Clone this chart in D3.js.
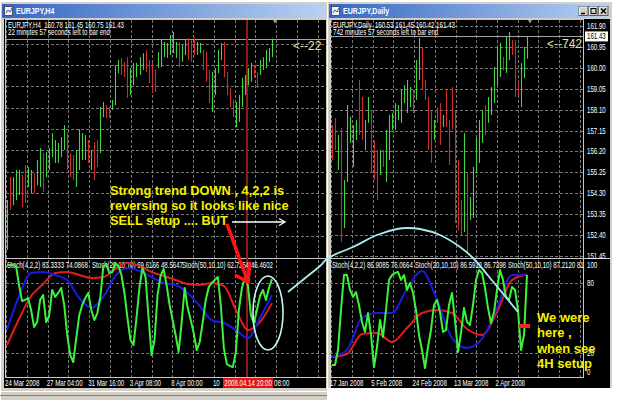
<!DOCTYPE html>
<html><head><meta charset="utf-8">
<script src="https://cdn.jsdelivr.net/npm/d3@7/dist/d3.min.js"></script>
<style>html,body{margin:0;padding:0;background:#fff;overflow:hidden}svg{display:block}</style>
</head><body>
<svg id="chart" width="625" height="400"></svg>
<script>
// ================= DATA =================
const leftTitle = "EURJPY,H4";
const rightTitle = "EURJPY,Daily";
const leftInfo = ["EURJPY,H4  160.78 161.45 160.75 161.43", "22 minutes 57 seconds left to bar end"];
const rightInfo = ["EURJPY,Daily  160.53 161.45 160.42 161.43", "742 minutes 57 seconds left to bar end"];
const leftStochLabels = ["Stoch(4,2,2) 83.3333 74.0868", "Stoch(20,10,10) 69.6166 48.5647", "Stoch(50,10,10) 62.7254 46.4602"];
const rightStochLabels = ["Stoch(4,2,2) 86.9085 76.0664", "Stoch(20,10,10) 86.5912 86.7398", "Stoch(50,10,10) 87.2120 81"];
const lastPrice = 161.43;
const leftBarsLeft = "<--22";
const rightBarsLeft = "<--742";

// H4 candles (high, low, up=1/down=0)
const leftHigh = [155.39,156.25,156.25,156.52,156.52,156.33,156.70,156.63,156.52,156.40,
  156.89,157.34,157.15,157.19,157.34,157.90,157.64,157.53,157.75,158.20,
  157.90,157.15,157.08,157.27,158.05,157.90,157.83,157.64,157.27,157.57,
  157.64,158.88,159.07,158.95,158.88,159.14,160.45,160.64,160.72,160.57,
  160.75,160.34,160.53,160.53,160.75,160.90,161.02,160.64,160.53,160.27,
  160.94,161.39,161.32,161.28,161.58,161.69,161.32,161.32,161.20,161.39,
  161.47,161.39,161.47,161.32,161.28,161.02,160.94,160.27,160.19,160.34,
  161.02,161.28,161.32,160.19,159.59,159.14,159.07,159.33,159.97,160.08,
  160.34,160.53,160.45,160.19,160.64,160.75,161.02,161.09,161.45];
const leftLow = [153.52,155.02,155.20,155.39,155.58,155.13,155.28,155.88,155.65,155.65,
  155.95,155.88,155.69,156.25,156.52,157.00,156.78,156.78,157.00,157.27,
  156.52,156.25,156.14,155.88,156.52,156.89,156.89,156.78,156.52,156.14,
  156.63,157.15,158.50,158.47,158.47,158.77,158.95,160.15,160.08,160.00,
  159.22,159.33,159.70,160.00,160.08,160.27,160.19,159.78,159.44,159.44,
  160.34,160.38,160.75,160.72,160.83,160.90,160.72,160.38,160.57,160.83,
  160.64,160.57,160.83,160.83,160.90,160.27,159.82,159.03,158.69,159.33,
  160.15,160.64,160.00,159.33,158.88,158.50,158.13,158.32,158.88,159.33,
  159.70,159.82,159.97,159.59,160.08,160.27,160.34,160.57,160.75];
const leftUp = [1,0,1,1,1,0,0,1,1,0, 1,1,0,1,1,1,1,1,1,1, 0,0,0,1,1,1,1,0,1,0,
  0,1,1,0,0,1,1,1,0,0, 0,1,1,1,1,1,0,0,0,0, 1,1,1,1,1,1,1,0,1,1,
  0,0,0,1,1,0,0,0,1,1, 1,1,0,0,0,0,1,1,1,1, 1,1,0,0,1,1,1,1,1];

// Daily candles
const rightHigh = [157.40,157.72,156.95,157.27,154.90,158.31,157.77,157.40,157.63,159.45,
  158.68,157.63,158.68,158.09,156.72,156.27,156.27,156.27,157.18,157.86,
  157.95,158.40,158.31,159.00,159.22,159.45,159.13,159.00,160.36,161.36,
  160.95,159.45,158.68,158.09,157.63,158.22,158.40,157.86,159.00,157.63,
  159.13,158.09,155.81,153.99,157.04,155.22,154.13,155.50,156.86,157.63,
  158.09,158.31,158.68,159.13,160.04,160.95,161.13,160.50,161.40,161.63,
  161.27,161.27,159.31,160.22,160.95,161.45];
const rightLow = [155.81,156.27,155.36,152.09,152.72,154.81,156.59,155.50,156.72,156.95,
  156.72,156.27,157.50,155.22,154.90,153.99,155.13,155.50,154.81,155.81,
  157.18,157.18,157.63,157.50,158.40,157.95,158.22,157.95,158.54,159.45,
  159.00,158.54,156.27,155.68,156.72,157.50,156.50,157.31,157.31,155.59,
  157.18,152.95,152.63,152.40,152.54,151.63,153.09,153.18,155.22,155.68,
  156.59,156.95,157.50,157.86,158.40,159.22,159.59,159.90,159.77,160.36,
  160.59,158.68,158.77,158.22,159.54,160.42];
const rightUp = [0,0,1,0,1,1,1,1,1,0, 0,1,1,0,0,0,1,0,1,1, 1,1,1,1,1,1,1,0,1,1,
  0,0,0,0,1,0,0,1,0,0, 0,0,0,0,1,0,1,1,1,1, 1,0,1,1,1,1,1,0,1,1, 0,0,0,1,1,1];

// Stochastics, H4 (fast every bar, 20/50 every 4 bars)
const leftStochFast = [95.4,95.4,95.4,94.5,78.2,64.5,65.4,67.1,56.8,42.2,
  46.5,65.4,69.7,46.5,51.7,74.0,68.0,71.4,75.7,61.1,
  35.4,18.2,12.2,32.8,52.5,61.1,67.1,71.4,56.8,48.2,
  54.2,68.0,94.5,95.4,88.5,89.4,97.1,94.5,86.8,71.4,
  50.0,31.1,26.8,50.0,76.5,92.8,85.1,50.8,18.2,31.1,
  69.7,86.0,92.0,78.2,61.1,48.2,35.4,20.8,46.5,75.7,
  58.5,48.2,37.1,22.5,29.4,46.5,65.4,76.5,80.0,82.5,
  85.1,61.1,24.3,10.5,8.8,7.9,20.8,56.8,75.7,84.2,
  78.2,52.5,45.7,56.8,68.8,74.0,65.4,75.7,83.3];
const leftStochMid = [39.7,68.8,88.5,89.4,86.8,82.5,67.1,58.5,68.0,86.0,92.8,90.2,85.1,80.0,78.2,71.4,60.2,48.2,45.7,39.7,32.8,50.0,69.6];
const leftStochSlow = [26.8,49.1,68.8,79.1,88.5,89.4,86.8,84.2,85.1,92.0,97.1,94.5,89.4,86.0,82.5,79.1,78.2,80.0,77.4,56.8,39.7,46.5,62.7];
// Stochastics, Daily (fast every bar, 20/50 every 5 bars)
const rightStochFast = [9.7,9.7,22.5,56.8,86.8,86.8,74.0,68.0,72.2,61.1,
  46.5,38.0,54.2,35.4,7.9,25.1,48.2,33.7,56.8,82.5,
  86.8,88.5,89.4,82.5,86.8,74.0,80.0,71.4,56.8,35.4,
  22.5,7.1,25.1,39.7,61.1,65.4,55.1,38.0,39.7,61.1,
  71.4,48.2,20.8,37.1,58.5,46.5,44.0,61.1,82.5,91.1,
  88.5,75.7,58.5,45.7,55.1,74.0,91.1,82.5,68.0,65.4,
  76.5,74.0,56.8,22.5,35.4,86.9];
const rightStochMid = [16.5,22.5,50.0,54.2,54.2,74.9,90.2,65.4,32.8,24.3,32.0,58.5,86.8,86.6];
const rightStochSlow = [16.5,19.1,36.3,37.1,29.4,41.4,54.2,56.8,54.2,40.5,35.4,55.1,82.5,87.2];

// visible time-axis labels (the crosshair date box hides the rest)
const leftTimeLabels = ["24 Mar 2008","27 Mar 04:00","31 Mar 16:00","3 Apr 08:00","8 Apr 00:00","10","08:00"];
const leftTimeIdx = [-0.3,13.5,27.3,41.1,54.9,68.7,89.0];
const leftMarkerIdx = 79.7;
const leftMarkerLabel = "2008.04.14 20:00";
const rightTimeLabels = ["17 Jan 2008","5 Feb 2008","24 Feb 2008","13 Mar 2008","2 Apr 2008"];
const rightTimeIdx = [-0.23,13.57,27.37,41.17,54.97];
const rightPriceTicks = [161.90,160.95,160.00,159.05,158.10,157.15,156.20,155.25,154.30,153.35,152.40,151.45];
const leftPriceTicks = [161.25,160.45,159.65,158.85,158.05,157.25,156.45,155.65,154.85,154.05];
const stochLevels = [80,20];
const stochAxisLabels = [100,80,20,0];
const noteLeft = ["Strong trend DOWN , 4,2,2 is","reversing so it looks like nice","SELL setup .... BUT"];
const noteRight = ["We were","here ,","when see","4H setup"];

// ================= SCALES =================
const xL = d3.scaleLinear().domain([0,88]).range([7,272]);
const yL = d3.scaleLinear().domain([162.142,153.218]).range([20,258]);
const xR = d3.scaleLinear().domain([0,65]).range([332,527]);
const yR = d3.scaleLinear().domain([162.177,151.359]).range([20,258]);
const yS = d3.scaleLinear().domain([0,100]).range([376.3,259.6]);

const svg = d3.select('#chart');
const FONT = 'Liberation Sans, Arial, sans-serif';
svg.attr('font-family', FONT);
const defs = svg.append('defs');
const gr = defs.append('linearGradient').attr('id','tb').attr('x1','0').attr('x2','1').attr('y1','0').attr('y2','0');
gr.append('stop').attr('offset','0').attr('stop-color','#3566c4');
gr.append('stop').attr('offset','1').attr('stop-color','#b8d2f2');
defs.append('clipPath').attr('id','clipL').append('rect').attr('x',6).attr('y',20).attr('width',321).attr('height',357);
defs.append('clipPath').attr('id','clipR').append('rect').attr('x',330).attr('y',20).attr('width',253).attr('height',357);

function small(g, x, y, s, fill, anchor) {
  return g.append('text').attr('transform', `translate(${x},${y}) scale(0.72,1)`)
    .attr('font-size', 8.5).attr('fill', fill || '#fff').attr('text-anchor', anchor || 'start')
    .style('white-space','pre').text(s);
}
const GRID = '#767676';

svg.append('rect').attr('width',625).attr('height',400).attr('fill','#ffffff');

// ================= WINDOW FRAME helper =================
function windowFrame(x0, x1, title, withButtons, bottomGrey) {
  const g = svg.append('g');
  g.append('rect').attr('x',x0).attr('y',2).attr('width',x1-x0).attr('height',bottomGrey?398:386).attr('fill','#d4d0c8');
  g.append('line').attr('x1',x0+0.5).attr('x2',x0+0.5).attr('y1',2).attr('y2',400).attr('stroke','#ffffff');
  g.append('rect').attr('x',x0+2).attr('y',4).attr('width',x1-x0-4).attr('height',14).attr('fill','url(#tb)');
  g.append('rect').attr('x',x0+4.5).attr('y',6.5).attr('width',8).attr('height',9).attr('fill','#f2f2f2').attr('stroke','#3a3a3a').attr('stroke-width',0.8);
  g.append('path').attr('d',`M${x0+6},13 l2,-3 l2,2 l2,-4`).attr('fill','none').attr('stroke','#1c58c8').attr('stroke-width',1);
  g.append('text').attr('x',x0+16).attr('y',14.5).attr('font-size',8.3).attr('font-weight','bold').attr('fill','#ffffff')
    .attr('transform',`translate(${(x0+16)*0.15},0) scale(0.85,1)`).text(title);
  if (withButtons) {
    const bx = [x1-33, x1-23, x1-13];
    bx.forEach((b) => {
      g.append('rect').attr('x',b).attr('y',6.5).attr('width',9).attr('height',9).attr('fill','#d4d0c8').attr('stroke','#404040').attr('stroke-width',0.8);
      g.append('path').attr('d',`M${b+0.5},15 V7 H${b+8.5}`).attr('fill','none').attr('stroke','#fff').attr('stroke-width',0.8);
    });
    g.append('line').attr('x1',bx[0]+2).attr('x2',bx[0]+6).attr('y1',13.5).attr('y2',13.5).attr('stroke','#000').attr('stroke-width',1.5);
    g.append('rect').attr('x',bx[1]+2).attr('y',8.5).attr('width',5).attr('height',5).attr('fill','none').attr('stroke','#000').attr('stroke-width',1);
    g.append('path').attr('d',`M${bx[2]+2},8.5 L${bx[2]+7},13.5 M${bx[2]+7},8.5 L${bx[2]+2},13.5`).attr('stroke','#000').attr('stroke-width',1.4);
  }
  g.append('rect').attr('x',x0+4).attr('y',19).attr('width',x1-x0-6).attr('height',369).attr('fill','#000');
  if (bottomGrey) {
    g.append('line').attr('x1',x0).attr('x2',x1).attr('y1',391.5).attr('y2',391.5).attr('stroke','#ffffff');
    g.append('line').attr('x1',x0).attr('x2',x1).attr('y1',395.5).attr('y2',395.5).attr('stroke','#808080');
  }
  return g;
}

// ================= LEFT WINDOW (H4) =================
windowFrame(0, 328, leftTitle, false, true);
const Lf = svg.append('g');
Lf.append('rect').attr('x',5.5).attr('y',19.5).attr('width',322).attr('height',358).attr('fill','none').attr('stroke','#c8c8c8');
Lf.append('line').attr('x1',6).attr('x2',328).attr('y1',258.5).attr('y2',258.5).attr('stroke','#c8c8c8');
const L = svg.append('g').attr('clip-path','url(#clipL)');
const gridL = d3.range(-0.3, 107, 6.9);
L.selectAll('line.vg').data(gridL).join('line')
  .attr('x1',d=>Math.round(xL(d))+0.5).attr('x2',d=>Math.round(xL(d))+0.5).attr('y1',20).attr('y2',377)
  .attr('stroke',GRID).attr('stroke-dasharray','3,2');
L.selectAll('line.hg').data(leftPriceTicks).join('line')
  .attr('x1',6).attr('x2',327).attr('y1',d=>Math.round(yL(d))+0.5).attr('y2',d=>Math.round(yL(d))+0.5)
  .attr('stroke',GRID).attr('stroke-dasharray','3,2');
L.selectAll('line.sl').data(stochLevels).join('line')
  .attr('x1',6).attr('x2',327).attr('y1',d=>Math.round(yS(d))+0.5).attr('y2',d=>Math.round(yS(d))+0.5)
  .attr('stroke',GRID).attr('stroke-dasharray','3,2');
L.append('line').attr('x1',6).attr('x2',327).attr('y1',Math.round(yL(lastPrice))+0.5).attr('y2',Math.round(yL(lastPrice))+0.5).attr('stroke','#a4a4a4');
L.selectAll('line.bar').data(leftHigh).join('line')
  .attr('x1',(d,i)=>Math.round(xL(i))+0.5).attr('x2',(d,i)=>Math.round(xL(i))+0.5)
  .attr('y1',d=>yL(d)).attr('y2',(d,i)=>yL(leftLow[i]))
  .attr('stroke',(d,i)=>leftUp[i]?'#44d444':'#cc2e2e').attr('stroke-width',1.1);
L.append('line').attr('x1',xL(leftMarkerIdx)).attr('x2',xL(leftMarkerIdx)).attr('y1',20).attr('y2',377)
  .attr('stroke','#8c1d1d').attr('stroke-width',2);
L.append('path').attr('d',`M${xL(88)+1},20 l4,0 l-2,3.5 z`).attr('fill','#9a9a9a');
leftInfo.forEach((s,i)=>small(L, 8, 28+7*i, s));
small(L, 7, 268, leftStochLabels[0]);
small(L, 92, 268, leftStochLabels[1]);
small(L, 182, 268, leftStochLabels[2]);
const lineFast = (xs, step) => d3.line().x((d,i)=>xs(i*step)).y(d=>yS(d));
const lineSmooth = (xs, step) => d3.line().x((d,i)=>xs(i*step)).y(d=>yS(d)).curve(d3.curveMonotoneX);
L.append('path').attr('d',lineSmooth(xL,4)(leftStochSlow)).attr('fill','none').attr('stroke','#e41c1c').attr('stroke-width',2);
L.append('path').attr('d',lineSmooth(xL,4)(leftStochMid)).attr('fill','none').attr('stroke','#1a1ae0').attr('stroke-width',2);
L.append('path').attr('d',lineFast(xL,1)(leftStochFast)).attr('fill','none').attr('stroke','#3cf23c').attr('stroke-width',2).attr('stroke-linejoin','round');
L.append('text').attr('x',293).attr('y',50).attr('font-size',12).attr('fill','#e0e0a2').text(leftBarsLeft);
// time axis
const LT = svg.append('g');
leftTimeLabels.forEach((s,i)=>small(LT, xL(leftTimeIdx[i])-1, 386, s));
LT.append('rect').attr('x',xL(leftMarkerIdx)-24).attr('y',378).attr('width',50).attr('height',10).attr('fill','#e01414');
small(LT, xL(leftMarkerIdx)+1, 386, leftMarkerLabel, '#ffffff', 'middle');

// ================= RIGHT WINDOW (Daily) =================
windowFrame(327, 612, rightTitle, true, false);
const Rf = svg.append('g');
Rf.append('rect').attr('x',329.5).attr('y',19.5).attr('width',254).attr('height',358).attr('fill','none').attr('stroke','#c8c8c8');
Rf.append('line').attr('x1',330).attr('x2',610).attr('y1',258.5).attr('y2',258.5).attr('stroke','#c8c8c8');
const R = svg.append('g').attr('clip-path','url(#clipR)');
const gridR = d3.range(-0.23, 84, 6.9);
R.selectAll('line.vg').data(gridR).join('line')
  .attr('x1',d=>Math.round(xR(d))+0.5).attr('x2',d=>Math.round(xR(d))+0.5).attr('y1',20).attr('y2',377)
  .attr('stroke',GRID).attr('stroke-dasharray','3,2');
R.selectAll('line.hg').data(rightPriceTicks).join('line')
  .attr('x1',330).attr('x2',583).attr('y1',d=>Math.round(yR(d))+0.5).attr('y2',d=>Math.round(yR(d))+0.5)
  .attr('stroke',GRID).attr('stroke-dasharray','3,2');
R.selectAll('line.sl').data(stochLevels).join('line')
  .attr('x1',330).attr('x2',583).attr('y1',d=>Math.round(yS(d))+0.5).attr('y2',d=>Math.round(yS(d))+0.5)
  .attr('stroke',GRID).attr('stroke-dasharray','3,2');
R.append('line').attr('x1',330).attr('x2',583).attr('y1',Math.round(yR(lastPrice))+0.5).attr('y2',Math.round(yR(lastPrice))+0.5).attr('stroke','#a4a4a4');
R.selectAll('line.bar').data(rightHigh).join('line')
  .attr('x1',(d,i)=>Math.round(xR(i))+0.5).attr('x2',(d,i)=>Math.round(xR(i))+0.5)
  .attr('y1',d=>yR(d)).attr('y2',(d,i)=>yR(rightLow[i]))
  .attr('stroke',(d,i)=>rightUp[i]?'#44d444':'#cc2e2e').attr('stroke-width',1.1);
R.append('path').attr('d',`M${xR(65)+1},20 l4,0 l-2,3.5 z`).attr('fill','#9a9a9a');
rightInfo.forEach((s,i)=>small(R, 333, 28+7*i, s));
small(R, 332, 268, rightStochLabels[0]);
small(R, 415, 268, rightStochLabels[1]);
small(R, 508, 268, rightStochLabels[2]);
R.append('path').attr('d',lineSmooth(xR,5)(rightStochSlow)).attr('fill','none').attr('stroke','#e41c1c').attr('stroke-width',2);
R.append('path').attr('d',lineSmooth(xR,5)(rightStochMid)).attr('fill','none').attr('stroke','#1a1ae0').attr('stroke-width',2);
R.append('path').attr('d',lineFast(xR,1)(rightStochFast)).attr('fill','none').attr('stroke','#3cf23c').attr('stroke-width',2).attr('stroke-linejoin','round');
R.append('text').attr('x',547).attr('y',47.5).attr('font-size',12).attr('fill','#e0e0a2').text(rightBarsLeft);
// price axis
const PA = svg.append('g');
rightPriceTicks.forEach(p=>small(PA, 587, Math.min(yR(p)+3, 258.5), p.toFixed(2)));
PA.append('rect').attr('x',585).attr('y',yR(lastPrice)-5).attr('width',23).attr('height',10).attr('fill','#ffffff');
small(PA, 587, yR(lastPrice)+3, lastPrice.toFixed(2), '#000');
stochAxisLabels.forEach(v=>small(PA, 587, Math.min(Math.max(yS(v),265),372)+3, String(v)));
const RT = svg.append('g');
rightTimeLabels.forEach((s,i)=>small(RT, xR(rightTimeIdx[i])-1.5, 386, s));

// ================= ANNOTATIONS =================
const A = svg.append('g');
const yl = A.append('g').attr('font-weight','bold').attr('font-size',12.8).attr('fill','#f4f000');
noteLeft.forEach((s,i)=>yl.append('text').attr('x',110).attr('y',195+15*i).style('white-space','pre').text(s));
A.append('line').attr('x1',232).attr('y1',222).attr('x2',284).attr('y2',222).attr('stroke','#ffffff').attr('stroke-width',1.3);
A.append('path').attr('d','M279,218.5 L285,222 L279,225.5').attr('fill','none').attr('stroke','#ffffff').attr('stroke-width',1.3);
A.append('line').attr('x1',227).attr('y1',224).attr('x2',247.5).attr('y2',281).attr('stroke','#ff1414').attr('stroke-width',3.5);
A.append('path').attr('d','M235,275 L248,282 L250,262').attr('fill','none').attr('stroke','#ff1414').attr('stroke-width',3.5);
A.append('ellipse').attr('cx',268).attr('cy',313).attr('rx',15).attr('ry',37).attr('fill','none').attr('stroke','#c4f4f4').attr('stroke-width',1.6);
const arcPts = [[288,292],[304,279],[320,266],[328,258],[353,247],[377,235],[397,229],[407,228],[420,229],[440,235],[460,247],[473,258],[495,284],[518,312]];
A.append('path').attr('d',d3.line().curve(d3.curveCatmullRom.alpha(0.5))(arcPts)).attr('fill','none').attr('stroke','#a8eef0').attr('stroke-width',1.8);
A.append('line').attr('x1',519).attr('x2',530).attr('y1',326).attr('y2',326).attr('stroke','#ff2020').attr('stroke-width',4);
const yr = A.append('g').attr('font-weight','bold').attr('font-size',13).attr('fill','#f4f000');
noteRight.forEach((s,i)=>yr.append('text').attr('x',537).attr('y',322+15.3*i).style('white-space','pre').text(s));
</script>
</body></html>
